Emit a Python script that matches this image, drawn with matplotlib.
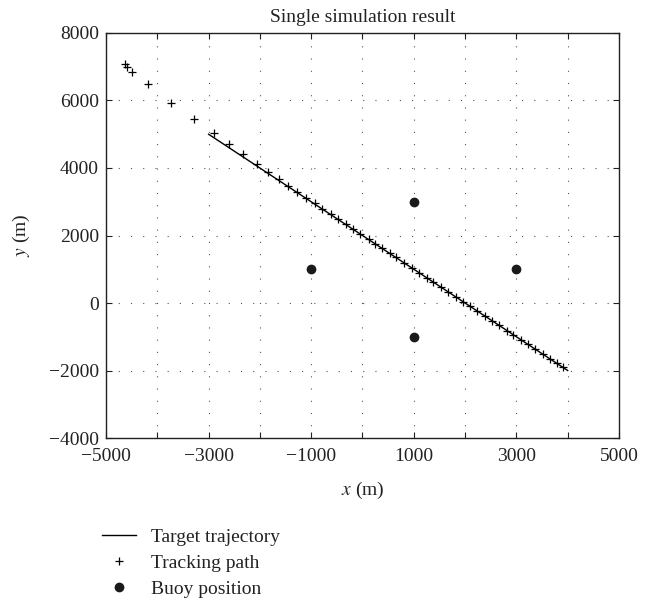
import numpy as np
import matplotlib
matplotlib.use("Agg")
import matplotlib.pyplot as plt

plt.rcParams['font.family'] = ['Liberation Serif', 'DejaVu Serif']
plt.rcParams['mathtext.fontset'] = 'stix'

# target trajectory (start / end)
target_x = [-3000, 4000]
target_y = [5000, -2000]

# tracking path estimates
track_x = [-4630, -4590, -4490, -4180, -3740, -3290, -2900, -2610, -2330, -2060,
           -1850, -1630, -1460, -1280, -1110, -930, -780, -620, -470, -330,
           -190, -40, 120, 250, 390, 530, 660, 810, 965, 1100,
           1255, 1375, 1530, 1665, 1825, 1960, 2095, 2230, 2390, 2525,
           2660, 2815, 2935, 3090, 3225, 3365, 3520, 3655, 3790, 3910]
track_y = [7080, 6990, 6840, 6490, 5930, 5450, 5040, 4700, 4400, 4120,
           3880, 3680, 3480, 3300, 3120, 2950, 2790, 2630, 2480, 2340,
           2200, 2050, 1890, 1760, 1620, 1480, 1350, 1200, 1040, 900,
           750, 630, 470, 340, 180, 40, -95, -230, -390, -525,
           -660, -815, -935, -1090, -1225, -1365, -1520, -1655, -1790, -1910]

# buoys
buoy_x = [-1000, 1000, 3000, 1000]
buoy_y = [1000, 3000, 1000, -1000]


def fmt(v):
    return '\u2212%d' % -v if v < 0 else '%d' % v


fig = plt.figure(figsize=(6.55, 6.01), dpi=100)
ax = fig.add_axes([0.1618, 0.2712, 0.7832, 0.6739])

ax.plot(target_x, target_y, color='black', linewidth=1.0, label='Target trajectory')
ax.plot(track_x, track_y, linestyle='none', marker='+', markersize=6,
        markeredgewidth=0.9, color='black', label='Tracking path')
ax.plot(buoy_x, buoy_y, linestyle='none', marker='o', markersize=6,
        color='#1a1a1a', label='Buoy position')

ax.set_xlim(-5000, 5000)
ax.set_ylim(-4000, 8000)
xt = np.arange(-5000, 5001, 1000)
ax.set_xticks(xt)
# only every other x tick carries a label
ax.set_xticklabels([fmt(v) if (v // 1000) % 2 else '' for v in xt])
yt = np.arange(-4000, 8001, 2000)
ax.set_yticks(yt)
ax.set_yticklabels([fmt(v) for v in yt])

ax.tick_params(direction='in', top=True, right=True, length=4, width=0.8,
               labelsize=14, colors='#222222')
ax.tick_params(axis='x', pad=7)
ax.tick_params(axis='y', pad=5)
ax.grid(True, linestyle=(0, (1, 10)), color='#555555', linewidth=0.8)
for s in ax.spines.values():
    s.set_linewidth(1.0)
    s.set_color('#222222')

ax.set_title('Single simulation result', fontsize=14, pad=8, color='#222222')
ax.set_xlabel('$x$ (m)', fontsize=14, labelpad=11, color='#222222')
ax.set_ylabel('$y$ (m)', fontsize=14, labelpad=12, color='#222222')

handles, labels = ax.get_legend_handles_labels()
fig.legend(handles, labels, loc='upper left', bbox_to_anchor=(0.155, 0.121),
           frameon=False, fontsize=14, handlelength=1.75, handletextpad=0.8,
           borderpad=0, borderaxespad=0, labelspacing=0.43, labelcolor='#222222')

fig.savefig('out.png', dpi=100)
